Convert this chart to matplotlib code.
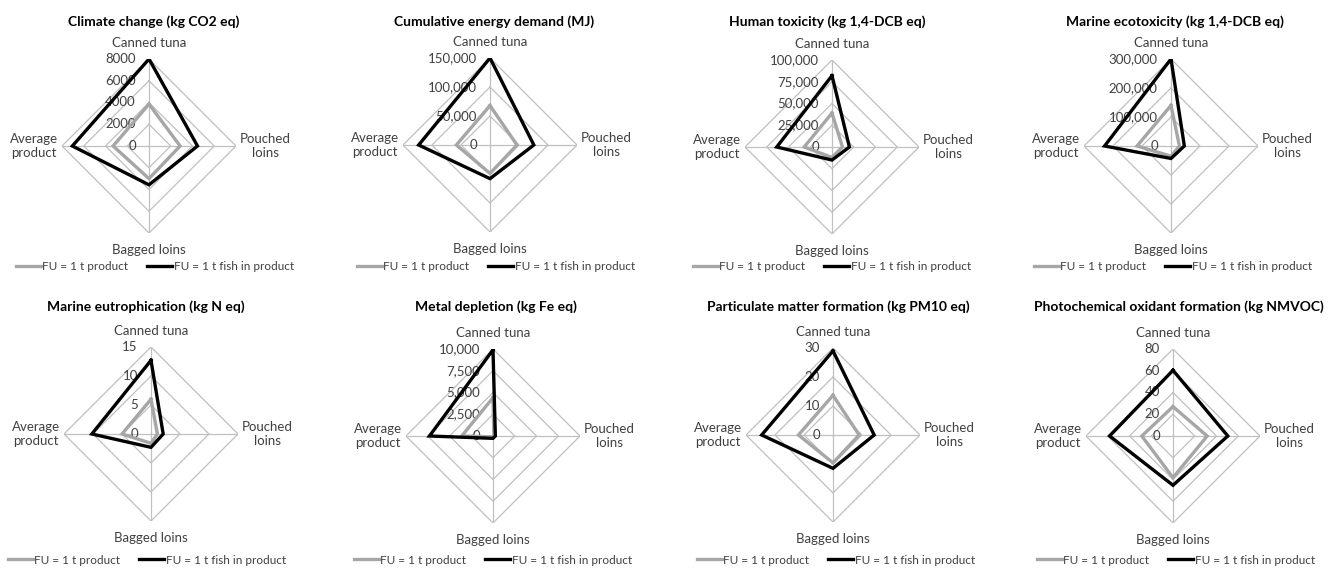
import numpy as np
import matplotlib
matplotlib.use("Agg")
import matplotlib.pyplot as plt

plt.rcParams['font.family'] = ['Lato', 'DejaVu Sans']

W, H = 1332, 568

categories = ["Canned tuna", "Pouched\nloins", "Bagged loins", "Average\nproduct"]
series_names = ["FU = 1 t product", "FU = 1 t fish in product"]

# impact values per category: canned tuna, pouched loins, bagged loins, average product
climate_product = [3850, 2860, 3000, 3300]
climate_fish = [8000, 4460, 3570, 7050]
climate_ticks = [0, 2000, 4000, 6000, 8000]
climate_labels = ["0", "2000", "4000", "6000", "8000"]

energy_product = [68000, 46500, 49000, 58000]
energy_fish = [150000, 75600, 58000, 123000]
energy_ticks = [0, 50000, 100000, 150000]
energy_labels = ["0", "50,000", "100,000", "150,000"]

humantox_product = [39000, 12000, 12000, 32000]
humantox_fish = [82000, 20000, 15000, 63500]
humantox_ticks = [0, 25000, 50000, 75000, 100000]
humantox_labels = ["0", "25,000", "50,000", "75,000", "100,000"]

ecotox_product = [140000, 29000, 35000, 117000]
ecotox_fish = [300000, 46000, 43000, 229000]
ecotox_ticks = [0, 100000, 200000, 300000]
ecotox_labels = ["0", "100,000", "200,000", "300,000"]

eutro_product = [6.0, 1.1, 1.6, 5.0]
eutro_fish = [12.7, 2.1, 2.3, 10.2]
eutro_ticks = [0, 5, 10, 15]
eutro_labels = ["0", "5", "10", "15"]

metal_product = [4400, 100, 100, 3600]
metal_fish = [9900, 270, 270, 7300]
metal_ticks = [0, 2500, 5000, 7500, 10000]
metal_labels = ["0", "2,500", "5,000", "7,500", "10,000"]

pm_product = [13.7, 9.0, 9.6, 11.9]
pm_fish = [29.0, 14.2, 11.5, 24.6]
pm_ticks = [0, 10, 20, 30]
pm_labels = ["0", "10", "20", "30"]

photo_product = [27.0, 31.4, 38.3, 28.7]
photo_fish = [60.4, 50.4, 45.3, 58.3]
photo_ticks = [0, 20, 40, 60, 80]
photo_labels = ["0", "20", "40", "60", "80"]

panels = [
    ("Climate change (kg CO2 eq)", climate_product, climate_fish, climate_ticks, climate_labels),
    ("Cumulative energy demand (MJ)", energy_product, energy_fish, energy_ticks, energy_labels),
    ("Human toxicity (kg 1,4-DCB eq)", humantox_product, humantox_fish, humantox_ticks, humantox_labels),
    ("Marine ecotoxicity (kg 1,4-DCB eq)", ecotox_product, ecotox_fish, ecotox_ticks, ecotox_labels),
    ("Marine eutrophication (kg N eq)", eutro_product, eutro_fish, eutro_ticks, eutro_labels),
    ("Metal depletion (kg Fe eq)", metal_product, metal_fish, metal_ticks, metal_labels),
    ("Particulate matter formation (kg PM10 eq)", pm_product, pm_fish, pm_ticks, pm_labels),
    ("Photochemical oxidant formation (kg NMVOC)", photo_product, photo_fish, photo_ticks, photo_labels),
]

# panel centres in pixels
centres = [(149, 146), (490, 145), (832, 147), (1171, 146),
           (151, 434), (493, 436), (833, 435), (1173, 436)]
title_pos = [(154, 22), (494, 22), (827, 22), (1175, 22),
             (146, 307), (496, 307), (838, 307), (1179, 307)]
legend_pos = [(155, 267), (496, 267), (832, 267), (1173, 267),
              (147, 560), (493, 560), (836, 560), (1176, 560)]
R = 87

grid_col = "#c0c0c0"
text_col = "#404040"
product_col = "#a6a6a6"
fish_col = "#000000"

angles = np.arange(len(categories)) * np.pi / 2
closed = np.append(angles, angles[0])

fig = plt.figure(figsize=(W / 100, H / 100), dpi=100)

for i, (title, prod, fish, ticks, labels) in enumerate(panels):
    cx, cy = centres[i]
    ax = fig.add_axes([(cx - R) / W, (H - cy - R) / H, 2 * R / W, 2 * R / H], projection='polar')
    ax.set_theta_zero_location('N')
    ax.set_theta_direction(-1)
    rmax = ticks[-1]
    ax.set_ylim(0, rmax)
    ax.grid(False)
    ax.spines['polar'].set_visible(False)
    ax.set_xticks([])
    ax.set_yticks([])
    ax.patch.set_alpha(0)

    # diamond rings and spokes
    for t in ticks[1:]:
        ax.plot(closed, [t] * len(closed), color=grid_col, lw=0.9, zorder=1)
    for a in angles:
        ax.plot([a, a], [0, rmax], color=grid_col, lw=0.9, zorder=1)

    # radial value labels along the top spoke
    for t, lab in zip(ticks, labels):
        ax.annotate(lab, xy=(0, t), xytext=(-9.5, 0), textcoords='offset points',
                    ha='right', va='center', fontsize=9.5, color=text_col, zorder=2)

    ax.plot(closed, prod + prod[:1], color=product_col, lw=2.4, zorder=3,
            solid_joinstyle='miter', label=series_names[0])
    ax.plot(closed, fish + fish[:1], color=fish_col, lw=2.4, zorder=4,
            solid_joinstyle='miter', label=series_names[1])

    # category labels around the outer ring
    offsets = [((0, 7), 'center', 'bottom'), ((3, 0), 'left', 'center'),
               ((0, -8), 'center', 'top'), ((-3, 0), 'right', 'center')]
    for a, cat, (off, ha, va) in zip(angles, categories, offsets):
        ax.annotate(cat, xy=(a, rmax), xytext=off, textcoords='offset points',
                    ha=ha, va=va, fontsize=9.5, color=text_col, multialignment='center')

    tx, ty = title_pos[i]
    fig.text(tx / W, 1 - ty / H, title, ha='center', va='center',
             fontsize=10, fontweight='bold', color='black')

    lx, ly = legend_pos[i]
    ax.legend(loc='center', bbox_to_anchor=(lx / W, 1 - ly / H), bbox_transform=fig.transFigure,
              ncol=2, frameon=False, fontsize=8.5, handlelength=2.1, handletextpad=0.15,
              columnspacing=1.6, labelcolor=text_col, borderpad=0)

fig.savefig("out.png", dpi=100)
